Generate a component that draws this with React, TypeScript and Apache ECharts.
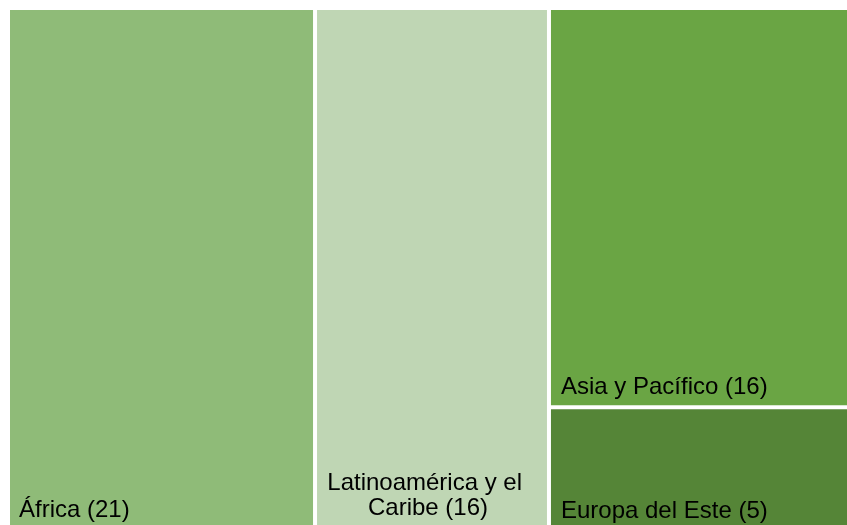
import React, { useEffect, useRef } from "react";
import * as echarts from "echarts";

// Data
const regions = ["África", "Latinoamérica y el Caribe", "Asia y Pacífico", "Europa del Este"];
const counts = [21, 16, 16, 5];
const regionColors = ["#8FBB78", "#BFD6B4", "#6AA544", "#558537"];

const FONT = "'Liberation Sans', Arial, sans-serif";

function leaf(i: number, labelExtra: any = {}) {
  return {
    name: regions[i],
    value: counts[i],
    itemStyle: { color: regionColors[i] },
    label: {
      position: "insideBottomLeft",
      distance: 9,
      ...labelExtra,
    },
  };
}

export default function App() {
  const ref = useRef<HTMLDivElement>(null);
  useEffect(() => {
    if (!ref.current) return;
    const chart = echarts.init(ref.current, undefined, { renderer: "svg" });
    const data = [
      leaf(0),
      leaf(1, {
        position: "insideBottom",
        align: "center",
        overflow: "break",
        distance: 11,
        offset: [-4, 0],
      }),
      {
        name: "grupo",
        value: counts[2] + counts[3],
        itemStyle: { color: "#fff" },
        children: [leaf(2, { offset: [1, 1.5] }), leaf(3, { offset: [1, 1] })],
      },
    ];
    chart.setOption({
      animation: false,
      series: [
        {
          type: "treemap",
          left: 2,
          top: 2,
          width: 844,
          height: 520,
          sort: false,
          squareRatio: 1,
          roam: false,
          nodeClick: false,
          breadcrumb: { show: false },
          itemStyle: { gapWidth: 4, borderWidth: 0, borderColor: "#fff" },
          upperLabel: { show: false },
          label: {
            show: true,
            color: "#000",
            fontSize: 24,
            lineHeight: 25,
            fontFamily: FONT,
            padding: 0,
            formatter: (p: any) => `${p.name} (${p.value})`,
          },
          emphasis: { disabled: true },
          data,
        },
      ],
    });
    return () => chart.dispose();
  }, []);
  return (
    <div
      style={{ position: "fixed", left: 8, top: 8, width: 839, height: 517, overflow: "hidden" }}
    >
      <div ref={ref} style={{ width: 839, height: 517 }} />
    </div>
  );
}
